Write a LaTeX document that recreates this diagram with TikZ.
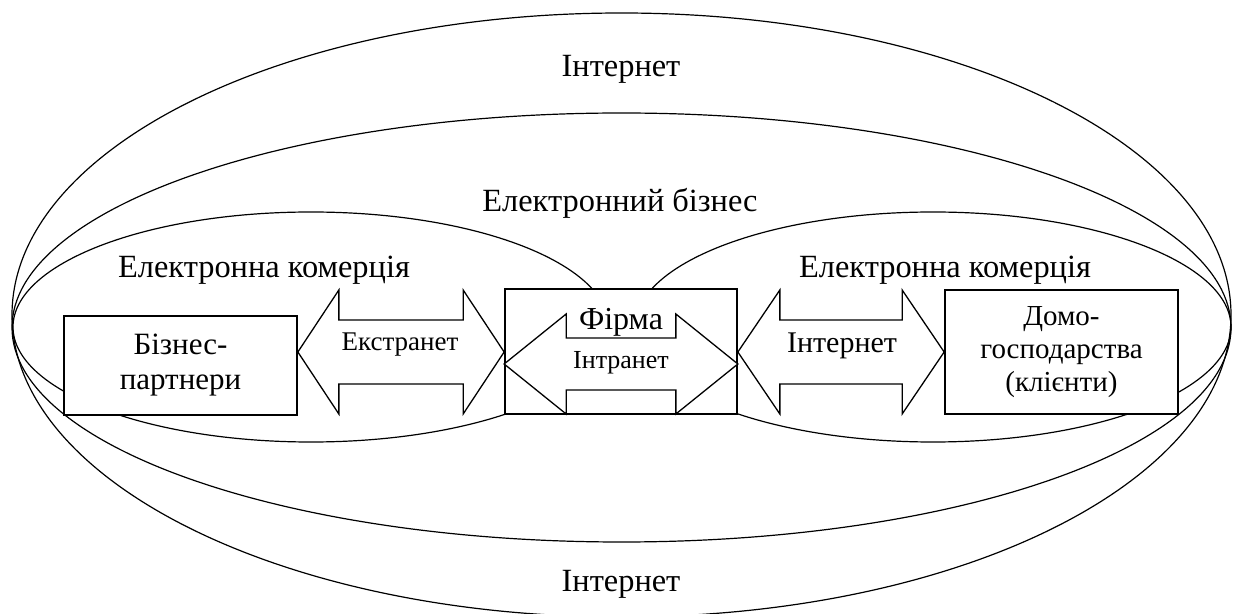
\documentclass[tikz,border=0pt]{standalone}
\usepackage{fontspec}
\setmainfont{Liberation Serif}
\usetikzlibrary{calc}

\tikzset{
  ring/.style={line width=0.6pt},
  box/.style={draw, fill=white, line width=0.85pt, inner sep=0pt, align=center},
  blockarrow/.style={draw, fill=white, line width=0.65pt, line join=miter},
  lbl/.style={inner sep=0pt, anchor=base},
}

% double block arrow between two anchors: #1 left, #2 right, #3 y, #4 head length, #5 shaft half, #6 head half
\newcommand{\dblarrow}[6]{%
  \coordinate (tl) at (#1 |- 0,#3);
  \coordinate (tr) at (#2 |- 0,#3);
  \filldraw[blockarrow] (tl) -- ++(#4,-#6) -- ++(0,#6-#5) -- ($(tr)+(-#4,-#5)$)
    -- ++(0,#5-#6) -- (tr) -- ++(-#4,#6) -- ++(0,#5-#6) -- ($(tl)+(#4,#5)$)
    -- ++(0,#6-#5) -- cycle;
}

\begin{document}
\begin{tikzpicture}[x=0.5pt, y=-0.5pt, font=\fontsize{16.2}{18}\selectfont]
  \useasboundingbox (0,0) rectangle (1237,614);

  % ---- ellipses ----
  \draw[ring] (621.5,315) ellipse [x radius=304.75pt, y radius=151pt];
  \draw[ring] (621.5,327.5) ellipse [x radius=304.75pt, y radius=107.25pt];
  \draw[ring] (311,327) ellipse [x radius=149pt, y radius=57.5pt];
  \draw[ring] (933,327) ellipse [x radius=149pt, y radius=57.5pt];

  % ---- boxes ----
  \node[box, minimum width=116.5pt, minimum height=49.5pt,
        font=\fontsize{15.5}{17.5}\selectfont] (partner) at (180.5,365.5) {Бізнес-\\партнери};
  \node[box, minimum width=116pt, minimum height=62.5pt] (firm) at (621,351.5) {};
  \node[box, minimum width=116.5pt, minimum height=62pt,
        font=\fontsize{14.5}{16.5}\selectfont] (home) at (1061.5,352) {Домо-\\господарства\\(клієнти)};

  % ---- block arrows ----
  \dblarrow{partner.east}{firm.west}{352}{41}{32}{62}
  \dblarrow{firm.east}{home.west}{352}{42}{32}{62}
  \dblarrow{firm.west}{firm.east}{364}{62}{26}{50}

  % ---- labels ----
  \node[lbl] (inettop) at (621,77) {Інтернет};
  \node[lbl] (inetbot) at (621,591) {Інтернет};
  \node[lbl] (ebiz) at (620,212) {Електронний бізнес};
  \node[lbl] (ecomL) at (264,278) {Електронна комерція};
  \node[lbl] (ecomR) at (945,278) {Електронна комерція};
  \node[lbl, font=\fontsize{16}{18}\selectfont] (firmtxt) at (621,330) {Фірма};
  \node[lbl, font=\fontsize{13.5}{15}\selectfont] (extxt) at (400,351) {Екстранет};
  \node[lbl, font=\fontsize{15}{17}\selectfont] (inettxt) at (842,353) {Інтернет};
  \node[lbl, font=\fontsize{13}{15}\selectfont] (intratxt) at (621,369) {Інтранет};
\end{tikzpicture}
\end{document}
